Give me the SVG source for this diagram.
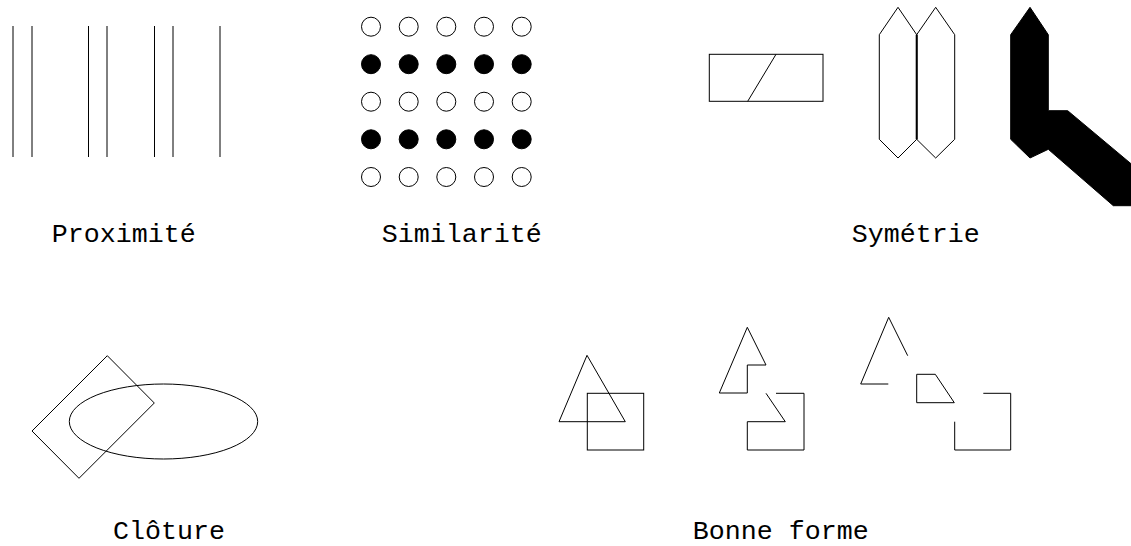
<svg xmlns="http://www.w3.org/2000/svg" width="1131" height="546" viewBox="0 0 1131 546">
<style>
.s{fill:none;stroke:#000;stroke-width:1}
.w{fill:#fff;stroke:#000;stroke-width:1}
.b{fill:#000;stroke:#000;stroke-width:1}
.t{font-family:"Liberation Mono","Courier New",monospace;font-size:26.67px;fill:#000}
</style>
<rect width="1131" height="546" fill="#fff"/>
<g id="proximite">
<path class="s" d="M13,26V157M32,26V157M88.5,26V157M107,26V157M154.5,26V157M173,26V157M220,26V157"/>
<text class="t" x="51.7" y="241.5">Proximité</text>
</g>
<g id="similarite">
<g class="w">
<circle cx="371" cy="26.7" r="9.5"/><circle cx="408.7" cy="26.7" r="9.5"/><circle cx="446.3" cy="26.7" r="9.5"/><circle cx="484" cy="26.7" r="9.5"/><circle cx="521.7" cy="26.7" r="9.5"/>
<circle cx="371" cy="101.7" r="9.5"/><circle cx="408.7" cy="101.7" r="9.5"/><circle cx="446.3" cy="101.7" r="9.5"/><circle cx="484" cy="101.7" r="9.5"/><circle cx="521.7" cy="101.7" r="9.5"/>
<circle cx="371" cy="177" r="9.5"/><circle cx="408.7" cy="177" r="9.5"/><circle cx="446.3" cy="177" r="9.5"/><circle cx="484" cy="177" r="9.5"/><circle cx="521.7" cy="177" r="9.5"/>
</g>
<g class="b">
<circle cx="371" cy="64.2" r="9.5"/><circle cx="408.7" cy="64.2" r="9.5"/><circle cx="446.3" cy="64.2" r="9.5"/><circle cx="484" cy="64.2" r="9.5"/><circle cx="521.7" cy="64.2" r="9.5"/>
<circle cx="371" cy="139.3" r="9.5"/><circle cx="408.7" cy="139.3" r="9.5"/><circle cx="446.3" cy="139.3" r="9.5"/><circle cx="484" cy="139.3" r="9.5"/><circle cx="521.7" cy="139.3" r="9.5"/>
</g>
<text class="t" x="381.7" y="241.5">Similarité</text>
</g>
<g id="symetrie">
<rect class="s" x="709.3" y="54.3" width="113.7" height="47"/>
<line class="s" x1="776" y1="54.3" x2="747.7" y2="101.3"/>
<polygon class="s" points="898,7.3 916.7,34.7 916.7,139.3 898,158 879.3,139.3 879.3,34.7"/>
<polygon class="s" points="935.7,7.3 954.7,34.7 954.7,139.3 935.7,158 916.7,139.3 916.7,34.7"/>
<line x1="916.7" y1="34.7" x2="916.7" y2="139.3" stroke="#000" stroke-width="2"/>
<polygon class="b" points="1030,7.3 1048.3,34.7 1048.3,110.7 1067.7,110.7 1160,188 1160,205.7 1113.3,205.7 1048.3,149.3 1030,158 1010.7,139.3 1010.7,34.7"/>
<text class="t" x="851.7" y="241.5">Symétrie</text>
</g>
<g id="cloture">
<polygon class="s" points="107.3,355.7 154.3,403 79,478.3 32,431"/>
<ellipse class="s" cx="163.5" cy="421.5" rx="94.2" ry="37.5"/>
<text class="t" x="113" y="539">Clôture</text>
</g>
<g id="bonne-forme">
<polygon class="s" points="587,355.3 625.3,421.7 559,421.7"/>
<rect class="s" x="587.3" y="393.3" width="56.4" height="56.7"/>
<polygon class="s" points="719.3,393 747.3,393 747.3,365 766,365 747.3,327.3"/>
<polyline class="s" points="776,393.3 804,393.3 804,450 747.3,450 747.3,421.7 785.3,421.7 766,393.3"/>
<polyline class="s" points="888.3,384 860.7,384 888.7,317.3 907.7,355.7"/>
<polygon class="s" points="916.7,374.3 935.3,374.3 954.3,402.7 916.7,402.7"/>
<polyline class="s" points="983.3,393.3 1010.7,393.3 1010.7,450 954.7,450 954.7,421.7"/>
<text class="t" x="692.7" y="539">Bonne forme</text>
</g>
</svg>
